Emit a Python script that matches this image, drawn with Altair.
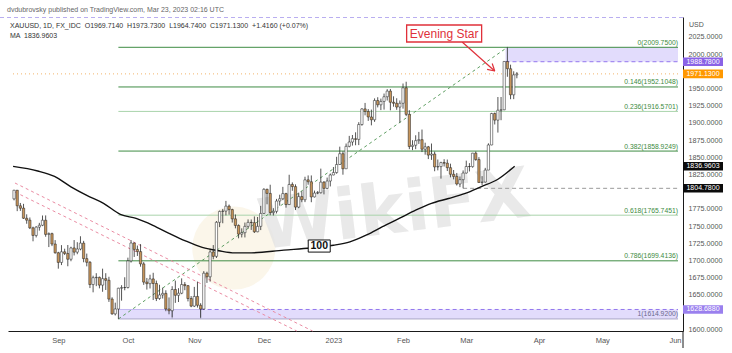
import altair as alt
import pandas as pd

# ---------------- data ----------------
# bar index: trading days, 0 = Sep 1 2022; first bar = Aug 12 2022
start_index = -14

opens = [
    1789.5, 1802.0, 1779.4, 1776.0, 1761.3, 1758.5, 1747.3, 1736.3, 1748.4, 1751.1, 1758.4, 1737.8, 1738.9, 1723.8,
    1711.1, 1697.1, 1712.5, 1710.1, 1701.7, 1718.1, 1712.0, 1716.6, 1725.1, 1702.6, 1697.3, 1664.9, 1674.9, 1675.4, 1664.1, 1673.5, 1671.1, 1643.8, 1622.3, 1629.4, 1659.6, 1660.5,
    1660.6, 1699.3, 1725.3, 1716.0, 1712.8, 1694.9, 1668.5, 1666.2, 1673.1, 1666.4, 1644.6, 1649.8, 1652.1, 1629.4, 1626.9, 1657.7, 1649.3, 1652.3, 1664.9, 1663.3, 1644.6,
    1633.6, 1647.6, 1634.8, 1629.3, 1681.4, 1676.2, 1712.3, 1705.9, 1755.4, 1771.2, 1771.7, 1778.9, 1773.9, 1760.4, 1750.8, 1738.2, 1740.3, 1749.5, 1755.3, 1754.9, 1741.6, 1749.5,
    1768.3, 1803.3, 1797.4, 1769.5, 1771.3, 1786.3, 1789.6, 1797.1, 1781.2, 1810.4, 1807.3, 1777.5, 1792.8, 1788.2, 1817.1, 1814.3, 1792.3, 1797.9, 1798.4, 1813.8, 1804.7, 1815.4,
    1824.2, 1827.7, 1839.4, 1855.1, 1833.2, 1865.8, 1872.1, 1876.9, 1875.9, 1897.5, 1920.2, 1916.5, 1908.5, 1904.4, 1932.4, 1926.2, 1931.1, 1937.9, 1946.1, 1929.9, 1928.4, 1922.9,
    1928.4, 1950.9, 1912.3, 1865.5, 1867.4, 1874.1, 1875.5, 1861.6, 1865.1, 1853.1, 1854.6, 1835.9, 1836.4, 1842.2, 1841.3, 1834.8, 1825.2, 1822.1, 1811.1, 1817.4,
    1827.0, 1836.5, 1836.3, 1855.9, 1846.6, 1813.3, 1813.9, 1831.3, 1867.8, 1913.5, 1903.9, 1918.3, 1918.9, 1989.2, 1978.6, 1940.7, 1969.714,
]
highs = [
    1802.6, 1802.4, 1783.5, 1782.2, 1767.0, 1762.4, 1749.0, 1749.8, 1754.6, 1765.3, 1765.4, 1740.7, 1740.3, 1729.5,
    1712.5, 1722.2, 1717.0, 1722.4, 1719.9, 1729.6, 1726.5, 1735.1, 1728.4, 1709.9, 1699.0, 1677.8, 1681.4, 1676.5, 1688.0, 1681.4, 1676.2, 1646.4, 1638.6, 1660.2, 1664.0, 1675.5,
    1704.0, 1729.5, 1726.1, 1721.6, 1723.7, 1697.5, 1674.5, 1679.2, 1682.0, 1670.7, 1664.6, 1660.3, 1656.6, 1646.2, 1662.5, 1670.6, 1659.6, 1673.9, 1668.5, 1664.2, 1648.2,
    1661.5, 1669.2, 1637.8, 1684.4, 1683.6, 1716.9, 1722.3, 1757.2, 1772.5, 1774.8, 1786.5, 1781.2, 1775.1, 1766.8, 1752.3, 1746.6, 1755.0, 1759.6, 1759.5, 1763.9, 1763.1, 1779.3,
    1805.0, 1804.3, 1810.0, 1775.9, 1789.4, 1795.5, 1806.9, 1798.3, 1824.5, 1813.4, 1810.5, 1798.5, 1800.6, 1821.6, 1823.5, 1823.5, 1801.5, 1800.7, 1833.4, 1815.3, 1820.4, 1826.3,
    1835.7, 1850.6, 1865.3, 1858.6, 1869.9, 1881.0, 1882.3, 1886.2, 1900.9, 1921.2, 1928.9, 1920.0, 1919.2, 1935.5, 1937.2, 1935.2, 1942.5, 1948.9, 1949.2, 1938.5, 1935.7, 1932.5,
    1957.1, 1959.7, 1918.3, 1874.7, 1881.9, 1886.8, 1890.2, 1871.1, 1866.4, 1869.9, 1858.1, 1846.6, 1843.4, 1847.1, 1846.6, 1840.6, 1831.4, 1827.1, 1822.0, 1830.8,
    1845.0, 1841.4, 1856.3, 1858.3, 1850.1, 1822.5, 1834.5, 1870.2, 1914.5, 1914.9, 1937.5, 1937.5, 1989.4, 2009.75, 1984.5, 1974.9, 1973.73,
]
lows = [
    1787.3, 1771.6, 1772.0, 1760.3, 1753.3, 1745.6, 1727.8, 1733.4, 1743.3, 1749.8, 1734.4, 1719.4, 1720.8, 1709.8,
    1688.0, 1693.2, 1707.8, 1691.5, 1698.8, 1707.2, 1709.0, 1714.7, 1697.3, 1691.4, 1659.8, 1653.6, 1662.6, 1659.4, 1654.4, 1657.0, 1639.7, 1621.0, 1620.0, 1614.9, 1641.5, 1656.6,
    1659.2, 1696.9, 1705.0, 1706.5, 1690.9, 1664.5, 1657.6, 1659.2, 1642.4, 1640.9, 1642.7, 1644.6, 1626.2, 1621.7, 1617.3, 1638.3, 1639.5, 1650.9, 1656.7, 1640.4, 1632.0,
    1632.2, 1631.5, 1616.7, 1628.3, 1667.3, 1669.2, 1701.6, 1703.5, 1748.4, 1754.0, 1765.4, 1766.5, 1755.0, 1746.6, 1732.1, 1733.4, 1733.4, 1746.6, 1744.3, 1739.9, 1741.0, 1744.1,
    1767.5, 1781.6, 1765.6, 1765.3, 1768.3, 1779.6, 1787.6, 1776.7, 1780.7, 1801.2, 1773.2, 1775.9, 1784.6, 1784.7, 1810.0, 1784.6, 1791.5, 1796.3, 1797.2, 1796.0, 1803.5, 1807.5,
    1823.8, 1826.0, 1839.2, 1824.6, 1833.7, 1864.4, 1866.9, 1867.4, 1867.6, 1895.8, 1910.9, 1902.8, 1896.3, 1901.4, 1922.4, 1918.5, 1919.2, 1932.4, 1918.2, 1923.4, 1918.9, 1900.4,
    1920.6, 1909.7, 1861.7, 1860.3, 1861.7, 1869.3, 1857.5, 1853.7, 1847.3, 1846.1, 1829.6, 1830.9, 1818.9, 1836.5, 1829.9, 1820.7, 1817.8, 1808.9, 1806.5, 1804.8,
    1826.3, 1829.3, 1834.8, 1844.8, 1812.9, 1809.5, 1813.2, 1831.3, 1867.4, 1897.6, 1885.8, 1903.8, 1918.4, 1966.9, 1934.3, 1934.4, 1964.74,
]
closes = [
    1802.0, 1779.4, 1775.9, 1761.3, 1758.5, 1747.3, 1736.3, 1748.4, 1751.1, 1758.4, 1737.8, 1738.9, 1723.8, 1711.1,
    1697.1, 1712.5, 1710.1, 1701.7, 1718.1, 1712.0, 1716.6, 1725.1, 1702.6, 1697.3, 1664.9, 1674.9, 1675.4, 1664.1, 1673.5, 1671.1, 1643.8, 1622.3, 1629.4, 1659.6, 1660.5, 1660.6,
    1699.3, 1725.3, 1716.0, 1712.8, 1694.9, 1668.5, 1666.2, 1673.1, 1666.4, 1644.6, 1649.8, 1652.1, 1629.4, 1626.9, 1657.7, 1649.3, 1652.3, 1664.9, 1663.3, 1644.6, 1633.6,
    1647.6, 1634.8, 1629.3, 1681.4, 1676.2, 1712.3, 1705.9, 1755.4, 1771.2, 1771.7, 1778.9, 1773.9, 1760.4, 1750.8, 1738.2, 1740.3, 1749.5, 1755.3, 1754.9, 1741.6, 1749.5, 1768.3,
    1803.3, 1797.4, 1769.5, 1771.3, 1786.3, 1789.6, 1797.1, 1781.2, 1810.4, 1807.3, 1777.5, 1792.8, 1788.2, 1817.1, 1814.3, 1792.3, 1797.9, 1798.4, 1813.8, 1804.7, 1815.4, 1824.2,
    1827.7, 1839.4, 1855.1, 1833.2, 1865.8, 1872.1, 1876.9, 1875.9, 1897.5, 1920.2, 1916.5, 1908.5, 1904.4, 1932.4, 1926.2, 1931.1, 1937.9, 1946.1, 1929.9, 1928.4, 1922.9, 1928.4,
    1950.9, 1912.3, 1865.5, 1867.4, 1874.1, 1875.5, 1861.6, 1865.1, 1853.1, 1854.6, 1835.9, 1836.4, 1842.2, 1841.3, 1834.8, 1825.2, 1822.1, 1811.1, 1817.4, 1827.0,
    1836.5, 1836.3, 1855.9, 1846.6, 1813.3, 1813.9, 1831.3, 1867.8, 1913.5, 1903.9, 1918.3, 1918.9, 1989.2, 1978.6, 1940.7, 1969.714, 1971.13,
]

# 100-period moving average
ma_idx = [-14.3, -6.5, -1.2, 4, 9, 14.3, 19.6, 24.6, 29.9, 35.2, 40.2, 45.5, 50.8, 55.8, 61,
          71.3, 79.8, 87, 92.2, 97.5, 102.5, 107.8, 113, 118, 123.4, 128.7, 133.6, 139, 144.3]
ma_val = [1836.7, 1830, 1822, 1807, 1794.6, 1783, 1767, 1761, 1751, 1739, 1728.4, 1719, 1714, 1711, 1711,
          1715, 1718, 1722, 1727, 1737, 1749, 1761, 1773, 1783, 1790, 1797.5, 1807, 1818, 1836.96]

# Fibonacci retracement
fib_ratio = [0, 0.146, 0.236, 0.382, 0.618, 0.786, 1]
fib_price = [2009.75, 1952.1048, 1916.5701, 1858.9249, 1765.7451, 1699.4136, 1614.92]
fib_start = 19      # Sep 28 2022 low
peak_index = 142    # Mar 20 2023 high

# month ticks
month_idx = [0, 22, 43, 65, 87, 109, 129, 152, 172, 195]
month_lbl = ["Sep", "Oct", "Nov", "Dec", "2023", "Feb", "Mar", "Apr", "May", "Jun"]

# price axis ticks
y_ticks = [1600, 1650, 1675, 1700, 1725, 1750, 1775, 1825, 1850, 1875, 1900, 1925, 1950, 2000, 2025]

# levels / tags
res_price = 1988.78
sup_price = 1628.688
feb_low = 1804.78
last_price = 1971.13
ma_last = 1836.9603
tag_price = [res_price, last_price, ma_last, feb_low, sup_price]
tag_kind = ["purple", "orange", "black", "black", "purple2"]

# descending channel (red dashed)
chan_line = ["a", "a", "b", "b"]
chan_i = [-13.7, 80.4, -13.7, 75.4]
chan_p = [1812.5, 1597.4, 1799.4, 1597.4]

# annotations (index, price)
star_i, star_p = 122.0, 2029.8
arrow_x1 = [127.7, 137.2, 135.6]
arrow_y1 = [2017.4, 1986.3, 1977.6]
arrow_x2 = [138.0, 138.0, 138.0]
arrow_y2 = [1975.3, 1975.3, 1975.3]
ma_lbl_i, ma_lbl_p = 82.5, 1720.9
wm_i, wm_p = 106.2, 1770.6
logo_i, logo_p = 55.5, 1718

title_txt = "dvdubrovsky published on TradingView.com, Mar 23, 2023 02:16 UTC"
legend_txt = ("XAUUSD, 1D, FX_IDC \u00a0O1969.7140 \u00a0H1973.7300 \u00a0L1964.7400 "
              "\u00a0C1971.1300 \u00a0+1.4160 (+0.07%)")
ma_txt = "MA \u00a01836.9603"

# ---------------- scales / axes ----------------
W, H = 675, 314
X_MIN, X_MAX = -14.33, 195.95
Y_MIN, Y_MAX = 1597.4, 2053.8
FONT = "Liberation Sans"

xs = alt.Scale(domain=[X_MIN, X_MAX], nice=False, zero=False)
ys = alt.Scale(domain=[Y_MIN, Y_MAX], nice=False, zero=False)

lbl_expr = "".join(f"datum.value=={v}?'{l}':" for v, l in zip(month_idx, month_lbl)) + "''"
xaxis = alt.Axis(values=month_idx, labelExpr=lbl_expr, title=None, grid=False, ticks=False,
                 domainColor="#1a1a1a", domainWidth=1, labelFontSize=7.5, labelColor="#555555",
                 labelFont=FONT, labelPadding=5, labelFlush=False, labelOverlap=False)
yaxis = alt.Axis(orient="right", values=y_ticks, format=".4f", title=None, grid=False, ticks=False,
                 domainColor="#1a1a1a", domainWidth=1, labelFontSize=7.2, labelColor="#555555",
                 labelFont=FONT, labelPadding=5, labelFlush=False, labelOverlap=False)


def X(f):
    return alt.X(f, type="quantitative", scale=xs, axis=xaxis, title=None)


def Y(f):
    return alt.Y(f, type="quantitative", scale=ys, axis=yaxis, title=None)


one = pd.DataFrame({"k": [0]})

# ---------------- layers ----------------
logo = alt.Chart(pd.DataFrame({"i": [logo_i], "p": [logo_p]})).mark_point(
    shape="circle", filled=True, size=6900, color="#f7eed6", opacity=0.5
).encode(x=X("i"), y=Y("p"))

watermark = alt.Chart(pd.DataFrame({"i": [wm_i], "p": [wm_p], "t": ["WikiFX"]})).mark_text(
    fontSize=70, fontWeight="bold", font="DejaVu Sans", color="#e4e4e4", angle=353, opacity=0.8
).encode(x=X("i"), y=Y("p"), text="t")

bands = alt.Chart(pd.DataFrame({"x0": [peak_index - 0.6, fib_start], "p0": [res_price, fib_price[-1]],
                                "p1": [fib_price[0], sup_price]})).transform_calculate(
    x1=str(X_MAX)).mark_rect(color="#ddd6fb", opacity=0.85).encode(
    x=X("x0"), x2="x1:Q", y=Y("p0"), y2="p1:Q")

band_top_edge = alt.Chart(pd.DataFrame({"x0": [fib_start], "p": [sup_price]})).transform_calculate(
    x1="45").mark_rule(color="#c2b8f2", strokeWidth=1).encode(x=X("x0"), x2="x1:Q", y=Y("p"))

band_sep = alt.Chart(pd.DataFrame({"i": [36, 45]})).transform_calculate(
    p0=str(fib_price[-1]), p1=str(sup_price)).mark_rule(color="#9e9eb0", strokeWidth=0.8).encode(
    x=X("i"), y=Y("p0:Q"), y2="p1:Q")

fdf = pd.DataFrame({"r": fib_ratio, "p": fib_price,
                    "lbl": [f"{r:g}({p:.4f})" for r, p in zip(fib_ratio, fib_price)]})
fib_lines = alt.Chart(fdf).transform_calculate(
    x0=str(fib_start), x1=str(X_MAX),
    col="datum.r == 1 ? '#aaa6c6' : (datum.r == 0.236 || datum.r == 0.618) ? '#a9d3ab' : '#3f8c44'",
).mark_rule(strokeWidth=1).encode(
    x=X("x0:Q"), x2="x1:Q", y=Y("p"), color=alt.Color("col:N", scale=None))
fib_text = alt.Chart(fdf).transform_calculate(
    col="datum.r == 1 ? '#6a6a8c' : '#3d8b41'"
).mark_text(align="right", baseline="bottom", dy=-1.5, fontSize=6.8, font=FONT).encode(
    x=alt.value(670), y=Y("p"), text="lbl", color=alt.Color("col:N", scale=None))

trend = alt.Chart(pd.DataFrame({"i": [fib_start, peak_index], "p": [fib_price[-1], fib_price[0]]})).mark_line(
    color="#5f9f63", strokeWidth=1, strokeDash=[3, 3]).encode(x=X("i"), y=Y("p"))

channel = alt.Chart(pd.DataFrame({"line": chan_line, "i": chan_i, "p": chan_p})).mark_line(
    color="#ea8ca3", strokeWidth=1, strokeDash=[3, 3]).encode(x=X("i"), y=Y("p"), detail="line:N")

last_line = alt.Chart(pd.DataFrame({"p": [last_price]})).transform_calculate(
    x0=str(X_MIN), x1=str(X_MAX)).mark_rule(color="#f2b46a", strokeWidth=1, strokeDash=[1, 3]).encode(
    x=X("x0:Q"), x2="x1:Q", y=Y("p"))
purple_lines = alt.Chart(pd.DataFrame({"x0": [peak_index - 0.6, 45], "p": [res_price, sup_price]})).transform_calculate(
    x1=str(X_MAX)).mark_rule(color="#9377ee", strokeWidth=1, strokeDash=[4, 3]).encode(
    x=X("x0"), x2="x1:Q", y=Y("p"))
low_line = alt.Chart(pd.DataFrame({"x0": [128], "p": [feb_low]})).transform_calculate(
    x1=str(X_MAX)).mark_rule(color="#9a9a9a", strokeWidth=1, strokeDash=[4, 3]).encode(
    x=X("x0"), x2="x1:Q", y=Y("p"))

top_dash = alt.Chart(one).mark_rule(color="#b9aef0", strokeWidth=1, strokeDash=[4, 3]).encode(
    x=alt.value(-8), x2=alt.value(W), y=alt.value(0.5))

ma_line = alt.Chart(pd.DataFrame({"i": ma_idx, "v": ma_val})).mark_line(
    color="#111111", strokeWidth=1.4, interpolate="monotone").encode(x=X("i"), y=Y("v"))

n = len(closes)
cdf = pd.DataFrame({"i": list(range(start_index, start_index + n)), "o": opens, "h": highs,
                    "l": lows, "c": closes})
wicks = alt.Chart(cdf).mark_rule(color="#2a2a2a", strokeWidth=0.8).encode(x=X("i"), y=Y("l"), y2="h:Q")
bodies = alt.Chart(cdf).transform_calculate(
    col="datum.c >= datum.o ? '#ffffff' : '#c8965c'"
).mark_bar(size=2.3, stroke="#1c1c1c", strokeWidth=0.5).encode(
    x=X("i"), y=Y("o"), y2="c:Q", fill=alt.Fill("col:N", scale=None))

# MA "100" label
ma_box = alt.Chart(pd.DataFrame({"i": [ma_lbl_i], "p": [ma_lbl_p]})).mark_point(
    shape="M-1,-0.55L1,-0.55L1,0.55L-1,0.55Z", size=484, fill="#ffffff", stroke="#111111",
    strokeWidth=1, opacity=1, fillOpacity=1).encode(x=X("i"), y=Y("p"))
ma_text = alt.Chart(pd.DataFrame({"i": [ma_lbl_i], "p": [ma_lbl_p], "t": ["100"]})).mark_text(
    fontSize=10.5, font=FONT, fontWeight="bold", color="#111111", baseline="middle").encode(
    x=X("i"), y=Y("p"), text="t")

# Evening Star annotation
star_box = alt.Chart(pd.DataFrame({"i": [star_i], "p": [star_p]})).mark_point(
    shape="M-1,-0.2267L1,-0.2267L1,0.2267L-1,0.2267Z", size=5625, fill="#ffffff", stroke="#e0303a",
    strokeWidth=1.3, opacity=1, fillOpacity=1).encode(x=X("i"), y=Y("p"))
star_text = alt.Chart(pd.DataFrame({"i": [star_i], "p": [star_p], "t": ["Evening Star"]})).mark_text(
    fontSize=12, font=FONT, color="#e0303a", baseline="middle").encode(x=X("i"), y=Y("p"), text="t")
arrow = alt.Chart(pd.DataFrame({"x1": arrow_x1, "y1": arrow_y1, "x2": arrow_x2, "y2": arrow_y2})).mark_rule(
    color="#e0303a", strokeWidth=1.2).encode(x=X("x1"), x2="x2:Q", y=Y("y1"), y2="y2:Q")

# price tags on the right axis
tdf = pd.DataFrame({"p": tag_price, "kind": tag_kind, "lbl": [f"{p:.4f}" for p in tag_price]})
tags = alt.Chart(tdf).mark_point(
    shape="M-1,-0.215L1,-0.215L1,0.215L-1,0.215Z", size=1600, filled=True, opacity=1).encode(
    x=alt.value(695), y=Y("p"),
    color=alt.Color("kind:N", legend=None,
                    scale=alt.Scale(domain=["purple", "orange", "black", "purple2"],
                                    range=["#8a63e6", "#ff9800", "#0b0b0b", "#9a80ee"])))
tag_text = alt.Chart(tdf).mark_text(fontSize=7, font=FONT, color="#ffffff", baseline="middle").encode(
    x=alt.value(695), y=Y("p"), text="lbl")

usd = alt.Chart(pd.DataFrame({"t": ["USD"]})).mark_text(
    fontSize=7, font=FONT, color="#555555", align="left", baseline="middle").encode(
    x=alt.value(681), y=alt.value(8), text="t")

axis_tail = alt.Chart(one).mark_rule(color="#1a1a1a", strokeWidth=1).encode(
    x=alt.value(W), y=alt.value(H), y2=alt.value(H + 17))

title = alt.Chart(pd.DataFrame({"t": [title_txt]})).mark_text(
    fontSize=7, font=FONT, color="#666666", align="left", baseline="middle").encode(
    x=alt.value(-1), y=alt.value(-7), text="t")
legend1 = alt.Chart(pd.DataFrame({"t": [legend_txt]})).mark_text(
    fontSize=7, font=FONT, color="#333333", align="left", baseline="middle").encode(
    x=alt.value(2), y=alt.value(8.5), text="t")
legend2 = alt.Chart(pd.DataFrame({"t": [ma_txt]})).mark_text(
    fontSize=7, font=FONT, color="#333333", align="left", baseline="middle").encode(
    x=alt.value(2), y=alt.value(18.5), text="t")

chart = alt.layer(
    logo, watermark, bands, band_top_edge, band_sep, fib_lines, trend, channel,
    last_line, purple_lines, low_line, top_dash, ma_line, wicks, bodies,
    fib_text, ma_box, ma_text, arrow, star_box, star_text, tags, tag_text, usd, axis_tail,
    title, legend1, legend2,
).properties(
    width=W, height=H,
    padding={"left": 8, "top": 17, "right": 49, "bottom": 22},
    autosize=alt.AutoSizeParams(type="none"),
    background="white",
).configure_view(stroke=None)

chart.save("out.html", embed_options={"renderer": "svg", "actions": False})
